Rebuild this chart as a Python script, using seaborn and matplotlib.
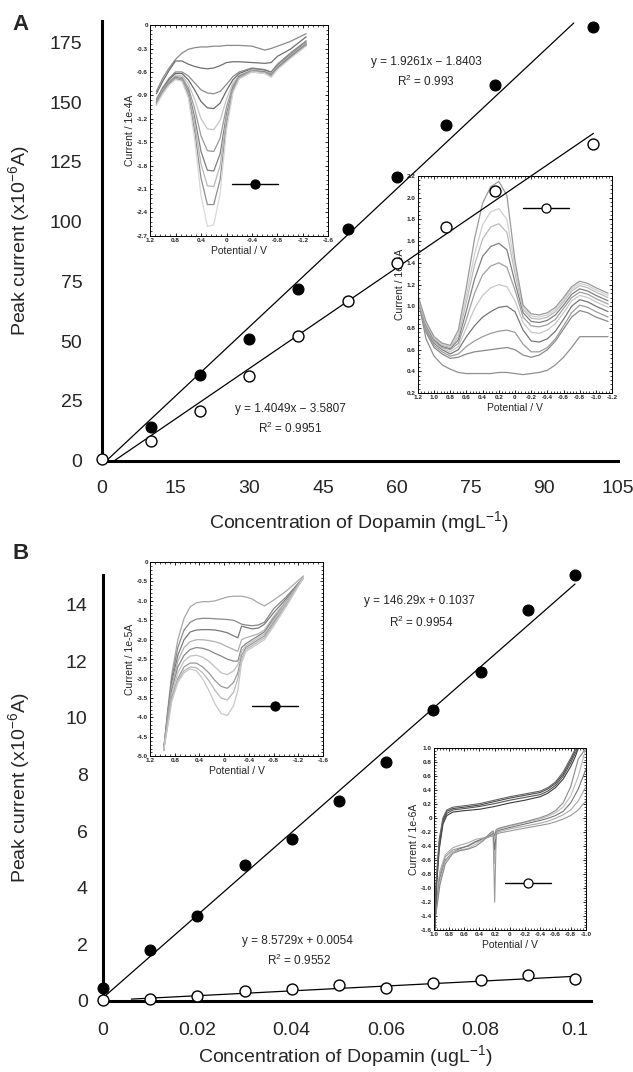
import numpy as np
import matplotlib
matplotlib.use('Agg')
import matplotlib.pyplot as plt
from matplotlib.lines import Line2D
from matplotlib.ticker import AutoMinorLocator
import seaborn as sns

sns.set_style('white')
plt.rcParams['font.family'] = ['Liberation Sans', 'DejaVu Sans']
plt.rcParams['mathtext.default'] = 'regular'

# ---------------- Panel A : mg/L ----------------
conc_a_filled = [10, 20, 30, 40, 50, 60, 70, 80, 100]
peak_a_filled = [14.0, 36.0, 51.1, 72.0, 96.9, 118.8, 140.4, 157.0, 181.2]
conc_a_open = [0, 10, 20, 30, 40, 50, 60, 70, 80, 100]
peak_a_open = [0.6, 8.4, 20.9, 35.6, 52.3, 67.0, 82.8, 97.9, 112.8, 132.5]
fit_a_filled = (1.9261, -1.8403)
fit_a_filled_x = [0.96, 96.0]
fit_a_open = (1.4049, -3.5807)
fit_a_open_x = [2.55, 100.0]

# inset A1 (filled) : potential / current (1e-4 A)
a1_pot = [1.1, 1.0, 0.9, 0.8, 0.7, 0.6, 0.5, 0.4, 0.3, 0.2, 0.1, 0.0, -0.1, -0.2, -0.4, -0.6, -0.7, -0.8, -1.0, -1.25]
a1_curves = [
    [-0.85, -0.68, -0.55, -0.44, -0.36, -0.31, -0.29, -0.28, -0.28, -0.27, -0.27, -0.26, -0.26, -0.26, -0.27, -0.32, -0.30, -0.27, -0.21, -0.11],
    [-0.88, -0.72, -0.58, -0.46, -0.46, -0.50, -0.53, -0.55, -0.56, -0.55, -0.52, -0.48, -0.47, -0.47, -0.48, -0.49, -0.48, -0.40, -0.31, -0.15],
    [-0.95, -0.80, -0.68, -0.60, -0.60, -0.65, -0.74, -0.83, -0.87, -0.88, -0.85, -0.76, -0.66, -0.60, -0.55, -0.57, -0.60, -0.50, -0.36, -0.20],
    [-0.97, -0.82, -0.70, -0.62, -0.62, -0.70, -0.83, -0.98, -1.06, -1.07, -1.00, -0.84, -0.70, -0.62, -0.56, -0.58, -0.61, -0.52, -0.38, -0.22],
    [-0.98, -0.83, -0.72, -0.64, -0.65, -0.75, -0.95, -1.20, -1.33, -1.34, -1.22, -0.95, -0.74, -0.64, -0.57, -0.59, -0.62, -0.53, -0.39, -0.23],
    [-0.99, -0.84, -0.73, -0.66, -0.67, -0.80, -1.07, -1.42, -1.61, -1.62, -1.45, -1.05, -0.78, -0.65, -0.58, -0.60, -0.63, -0.54, -0.40, -0.24],
    [-1.00, -0.85, -0.74, -0.67, -0.69, -0.84, -1.18, -1.62, -1.86, -1.87, -1.65, -1.14, -0.81, -0.66, -0.59, -0.60, -0.64, -0.55, -0.41, -0.25],
    [-1.01, -0.86, -0.75, -0.68, -0.70, -0.87, -1.26, -1.78, -2.06, -2.07, -1.80, -1.20, -0.83, -0.67, -0.59, -0.61, -0.65, -0.56, -0.42, -0.26],
    [-1.02, -0.87, -0.76, -0.69, -0.71, -0.90, -1.36, -1.96, -2.30, -2.30, -1.98, -1.28, -0.85, -0.68, -0.60, -0.62, -0.66, -0.56, -0.42, -0.26],
    [-1.03, -0.88, -0.77, -0.70, -0.72, -0.93, -1.46, -2.18, -2.58, -2.56, -2.16, -1.35, -0.87, -0.69, -0.60, -0.62, -0.67, -0.57, -0.43, -0.27],
]
a1_grays = ['#8a8a8a', '#707070', '#8c8c8c', '#6a6a6a', '#c4c4c4', '#9a9a9a', '#808080', '#b8b8b8', '#8f8f8f', '#d8d8d8']

# inset A2 (open) : potential / current (1e-4 A)
a2_pot = [1.2, 1.1, 1.0, 0.9, 0.8, 0.7, 0.6, 0.5, 0.4, 0.3, 0.2, 0.1, 0.0, -0.1, -0.2, -0.3, -0.4, -0.5, -0.6, -0.7, -0.8, -0.9, -1.0, -1.15]
a2_curves = [
    [1.07, 0.70, 0.54, 0.46, 0.42, 0.39, 0.38, 0.38, 0.38, 0.38, 0.39, 0.39, 0.38, 0.37, 0.38, 0.39, 0.41, 0.46, 0.53, 0.62, 0.72, 0.72, 0.72, 0.72],
    [1.07, 0.76, 0.62, 0.56, 0.52, 0.53, 0.56, 0.58, 0.59, 0.60, 0.61, 0.62, 0.60, 0.55, 0.53, 0.55, 0.60, 0.68, 0.79, 0.90, 0.96, 0.94, 0.90, 0.86],
    [1.07, 0.78, 0.64, 0.58, 0.54, 0.56, 0.63, 0.68, 0.72, 0.75, 0.77, 0.78, 0.76, 0.65, 0.58, 0.58, 0.62, 0.70, 0.82, 0.94, 1.01, 0.99, 0.95, 0.90],
    [1.07, 0.80, 0.66, 0.60, 0.56, 0.60, 0.72, 0.82, 0.90, 0.95, 0.99, 1.00, 0.95, 0.78, 0.68, 0.67, 0.70, 0.77, 0.88, 1.00, 1.06, 1.04, 1.00, 0.95],
    [1.07, 0.81, 0.67, 0.61, 0.58, 0.63, 0.80, 0.98, 1.10, 1.17, 1.20, 1.18, 1.05, 0.85, 0.76, 0.75, 0.78, 0.84, 0.94, 1.05, 1.10, 1.08, 1.04, 0.99],
    [1.07, 0.82, 0.68, 0.62, 0.60, 0.66, 0.88, 1.12, 1.29, 1.37, 1.40, 1.36, 1.15, 0.90, 0.82, 0.81, 0.83, 0.88, 0.98, 1.08, 1.13, 1.11, 1.07, 1.02],
    [1.08, 0.83, 0.69, 0.63, 0.61, 0.69, 0.96, 1.25, 1.46, 1.55, 1.58, 1.52, 1.22, 0.94, 0.86, 0.85, 0.87, 0.92, 1.01, 1.11, 1.16, 1.14, 1.10, 1.05],
    [1.08, 0.84, 0.70, 0.64, 0.62, 0.72, 1.04, 1.38, 1.62, 1.73, 1.76, 1.68, 1.30, 0.97, 0.89, 0.88, 0.90, 0.95, 1.04, 1.14, 1.19, 1.17, 1.13, 1.08],
    [1.09, 0.85, 0.71, 0.65, 0.63, 0.75, 1.10, 1.48, 1.75, 1.87, 1.90, 1.80, 1.36, 0.99, 0.91, 0.90, 0.92, 0.97, 1.06, 1.16, 1.21, 1.19, 1.15, 1.10],
    [1.10, 0.86, 0.72, 0.66, 0.64, 0.78, 1.18, 1.62, 1.95, 2.10, 2.15, 2.02, 1.42, 1.01, 0.93, 0.92, 0.94, 0.99, 1.08, 1.18, 1.23, 1.21, 1.17, 1.12],
]
a2_grays = ['#909090', '#8a8a8a', '#9c9c9c', '#777777', '#c8c8c8', '#a0a0a0', '#808080', '#bbbbbb', '#d0d0d0', '#9a9a9a']

# ---------------- Panel B : ug/L ----------------
conc_b = [0, 0.01, 0.02, 0.03, 0.04, 0.05, 0.06, 0.07, 0.08, 0.09, 0.1]
peak_b_filled = [0.46, 1.80, 3.00, 4.80, 5.70, 7.05, 8.45, 10.28, 11.63, 13.82, 15.05]
peak_b_open = [0.03, 0.06, 0.18, 0.34, 0.42, 0.56, 0.46, 0.64, 0.74, 0.90, 0.78]
fit_b_filled = (146.29, 0.1037)
fit_b_filled_x = [0.0, 0.1]
fit_b_open = (8.5729, 0.0054)
fit_b_open_x = [0.006, 0.1]

# inset B1 (filled) : potential / current (1e-5 A)
b1_pot = [0.98, 0.92, 0.85, 0.75, 0.65, 0.55, 0.45, 0.35, 0.25, 0.15, 0.05, -0.05, -0.15, -0.22, -0.28, -0.35, -0.45, -0.55, -0.65, -0.8, -1.0, -1.28]
b1_curves = [
    [-4.85, -3.90, -2.90, -2.00, -1.45, -1.15, -1.05, -1.02, -1.02, -1.00, -0.95, -0.90, -0.88, -0.88, -0.88, -0.90, -0.95, -1.05, -1.13, -0.98, -0.75, -0.36],
    [-4.85, -3.95, -3.00, -2.20, -1.75, -1.55, -1.47, -1.45, -1.45, -1.46, -1.47, -1.48, -1.50, -1.55, -1.60, -1.62, -1.64, -1.62, -1.55, -1.20, -0.90, -0.40],
    [-4.85, -4.00, -3.10, -2.40, -2.00, -1.80, -1.75, -1.74, -1.74, -1.75, -1.78, -1.82, -1.90, -1.95, -1.65, -1.68, -1.72, -1.70, -1.60, -1.30, -0.95, -0.40],
    [-4.85, -4.05, -3.20, -2.55, -2.20, -2.05, -2.00, -2.00, -2.02, -2.05, -2.10, -2.18, -2.25, -2.30, -2.00, -1.95, -1.90, -1.85, -1.75, -1.40, -1.00, -0.40],
    [-4.85, -4.10, -3.30, -2.70, -2.40, -2.25, -2.20, -2.22, -2.27, -2.35, -2.42, -2.50, -2.55, -2.55, -2.20, -2.10, -2.00, -1.90, -1.80, -1.45, -1.05, -0.40],
    [-4.85, -4.15, -3.40, -2.85, -2.55, -2.42, -2.40, -2.45, -2.55, -2.70, -2.85, -2.90, -2.80, -2.65, -2.30, -2.15, -2.05, -1.95, -1.85, -1.50, -1.05, -0.40],
    [-4.85, -4.20, -3.50, -3.00, -2.70, -2.60, -2.60, -2.70, -2.85, -3.05, -3.20, -3.25, -3.10, -2.85, -2.40, -2.20, -2.10, -2.00, -1.90, -1.55, -1.10, -0.40],
    [-4.85, -4.25, -3.55, -3.05, -2.80, -2.70, -2.72, -2.85, -3.05, -3.30, -3.50, -3.55, -3.35, -3.00, -2.50, -2.25, -2.15, -2.05, -1.95, -1.60, -1.10, -0.40],
    [-4.85, -4.30, -3.60, -3.10, -2.85, -2.75, -2.80, -3.00, -3.30, -3.65, -3.90, -3.95, -3.70, -3.30, -2.60, -2.30, -2.20, -2.10, -2.00, -1.65, -1.15, -0.40],
]
b1_grays = ['#a8a8a8', '#8a8a8a', '#7a7a7a', '#b0b0b0', '#888888', '#c0c0c0', '#999999', '#b8b8b8', '#c8c8c8']

# inset B2 (open) : potential / current (1e-6 A), anodic and cathodic branches
b2_pot_up = [0.99, 0.97, 0.93, 0.88, 0.83, 0.75, 0.6, 0.4, 0.2, 0.0, -0.2, -0.4, -0.5, -0.6, -0.7, -0.8, -0.86, -0.9]
b2_up = [
    [-1.6, -1.05, -0.45, -0.08, 0.04, 0.09, 0.11, 0.13, 0.17, 0.22, 0.26, 0.31, 0.36, 0.44, 0.56, 0.74, 0.88, 1.0],
    [-1.6, -1.00, -0.40, -0.05, 0.07, 0.12, 0.14, 0.17, 0.21, 0.26, 0.30, 0.34, 0.39, 0.47, 0.60, 0.79, 0.93, 1.0],
    [-1.6, -0.95, -0.35, -0.02, 0.10, 0.14, 0.16, 0.19, 0.24, 0.29, 0.33, 0.37, 0.42, 0.50, 0.63, 0.83, 0.97, 1.0],
    [-1.6, -0.90, -0.30, 0.01, 0.12, 0.16, 0.18, 0.21, 0.26, 0.31, 0.35, 0.39, 0.44, 0.52, 0.66, 0.86, 0.99, 1.0],
]
b2_pot_down = [-1.0, -0.9, -0.8, -0.7, -0.6, -0.5, -0.4, -0.2, 0.0, 0.14, 0.18, 0.2, 0.22, 0.26, 0.35, 0.45, 0.55, 0.65, 0.75, 0.85, 0.92, 0.97, 1.0]
b2_down = [
    [0.25, 0.12, 0.04, -0.01, -0.05, -0.08, -0.10, -0.14, -0.18, -0.21, -0.23, -1.20, -0.25, -0.26, -0.30, -0.34, -0.40, -0.42, -0.45, -0.55, -0.80, -1.20, -1.60],
    [0.45, 0.25, 0.12, 0.05, 0.00, -0.04, -0.07, -0.11, -0.15, -0.19, -0.21, -0.65, -0.23, -0.25, -0.28, -0.30, -0.35, -0.38, -0.42, -0.52, -0.75, -1.15, -1.60],
    [0.70, 0.42, 0.22, 0.10, 0.04, 0.00, -0.03, -0.08, -0.13, -0.17, -0.19, -0.45, -0.21, -0.24, -0.29, -0.33, -0.39, -0.43, -0.48, -0.60, -0.85, -1.25, -1.60],
    [1.00, 0.60, 0.32, 0.16, 0.08, 0.03, -0.01, -0.06, -0.11, -0.15, -0.17, -0.30, -0.19, -0.22, -0.30, -0.37, -0.43, -0.45, -0.48, -0.62, -0.90, -1.30, -1.60],
    [1.00, 0.85, 0.45, 0.22, 0.11, 0.05, 0.01, -0.05, -0.10, -0.14, -0.16, -0.25, -0.18, -0.21, -0.32, -0.40, -0.44, -0.46, -0.50, -0.65, -0.95, -1.35, -1.60],
]
b2_up_grays = ['#3c3c3c', '#555555', '#484848', '#666666']
b2_down_grays = ['#999999', '#aaaaaa', '#777777', '#bbbbbb', '#8a8a8a']


def tick_text(v):
    return '0' if abs(v) < 1e-9 else f'{v:.1f}'


def style_inset(ins, xlim, xticks, ylim, yticks, ylabel, marker_face, key_xy):
    ins.set_facecolor('white')
    ins.set_xlim(xlim)
    ins.set_ylim(ylim)
    ins.set_xticks(xticks)
    ins.set_xticklabels([tick_text(v) for v in xticks])
    ins.set_yticks(yticks)
    ins.set_yticklabels([tick_text(v) for v in yticks])
    ins.xaxis.set_minor_locator(AutoMinorLocator(5))
    ins.yaxis.set_minor_locator(AutoMinorLocator(5))
    ins.tick_params(which='both', direction='in', top=True, right=True, bottom=True, left=True,
                    labelsize=4.6, pad=1.5, color='black')
    ins.tick_params(which='major', length=2.4, width=0.6)
    ins.tick_params(which='minor', length=1.2, width=0.5)
    for lab in ins.get_xticklabels() + ins.get_yticklabels():
        lab.set_fontweight('bold')
    for sp in ins.spines.values():
        sp.set_visible(True)
        sp.set_linewidth(0.7)
        sp.set_color('black')
    ins.set_xlabel('Potential / V', fontsize=7.5, labelpad=2)
    ins.set_ylabel(ylabel, fontsize=7.5, labelpad=1)
    # "—o—" key drawn as a label-less legend entry
    key = Line2D([], [], color='black', lw=1.0, marker='o', markersize=6.5,
                 markerfacecolor=marker_face, markeredgecolor='black', markeredgewidth=0.9)
    ins.legend(handles=[key], labels=[''], loc='center', bbox_to_anchor=key_xy,
               frameon=False, handlelength=3.3, handletextpad=0, borderpad=0)
    ins.set_zorder(0.5)


def style_main(ax, xticks, xlabels, yticks):
    sns.despine(ax=ax)
    for side in ('left', 'bottom'):
        ax.spines[side].set_linewidth(2.2)
        ax.spines[side].set_color('black')
    ax.set_xticks(xticks)
    ax.set_xticklabels(xlabels)
    ax.set_yticks(yticks)
    ax.tick_params(axis='both', direction='in', length=6, width=2.2, labelsize=14, color='black')


fig = plt.figure(figsize=(6.33, 10.72), dpi=100)

# ---------------- panel A ----------------
axA = fig.add_axes([0.1607, 0.5702, 0.8156, 0.4104])
axA.set_xlim(0, 105)
axA.set_ylim(0, 184)
style_main(axA, list(range(0, 106, 15)), [str(v) for v in range(0, 106, 15)], list(range(0, 176, 25)))
axA.tick_params(axis='x', pad=14)
axA.tick_params(axis='y', pad=14)

fa_x = np.array(fit_a_filled_x)
fo_x = np.array(fit_a_open_x)
sns.lineplot(x=fa_x, y=fit_a_filled[0] * fa_x + fit_a_filled[1], ax=axA, color='black', lw=0.9, zorder=3)
sns.lineplot(x=fo_x, y=fit_a_open[0] * fo_x + fit_a_open[1], ax=axA, color='black', lw=0.9, zorder=3)
sns.scatterplot(x=conc_a_filled, y=peak_a_filled, ax=axA, color='black', edgecolor='black',
                s=62, linewidth=0.8, zorder=4, clip_on=False)
sns.scatterplot(x=conc_a_open, y=peak_a_open, ax=axA, color='white', edgecolor='black',
                s=62, linewidth=1.0, zorder=4, clip_on=False)

axA.text(66, 166.6, 'y = 1.9261x − 1.8403', ha='center', va='center', fontsize=8.5)
axA.text(66, 158.8, 'R$^{2}$ = 0.993', ha='center', va='center', fontsize=8.5)
axA.text(38.3, 21.6, 'y = 1.4049x − 3.5807', ha='center', va='center', fontsize=8.5)
axA.text(38.3, 13.7, 'R$^{2}$ = 0.9951', ha='center', va='center', fontsize=8.5)

axA.set_xlabel('Concentration of Dopamin (mgL$^{-1}$)', fontsize=14)
axA.set_ylabel('Peak current (x10$^{-6}$A)', fontsize=14)
axA.xaxis.set_label_coords(0.498, -0.11)
axA.yaxis.set_label_coords(-0.135, 0.5)

insA1 = axA.inset_axes([9.82, 94.1, 36.3, 88.1], transform=axA.transData)
for cur, g in zip(a1_curves, a1_grays):
    insA1.plot(a1_pot, cur, color=g, lw=0.9)
style_inset(insA1, (1.2, -1.6), [1.2, 0.8, 0.4, 0.0, -0.4, -0.8, -1.2, -1.6],
            (-2.7, 0), list(np.round(np.arange(0, -2.71, -0.3), 1)), 'Current / 1e-4A',
            'black', (0.59, 0.24))

insA2 = axA.inset_axes([64.3, 28.3, 39.5, 90.8], transform=axA.transData)
for cur, g in zip(a2_curves, a2_grays):
    insA2.plot(a2_pot, cur, color=g, lw=0.9)
style_inset(insA2, (1.2, -1.2), list(np.round(np.arange(1.2, -1.21, -0.2), 1)),
            (0.2, 2.2), list(np.round(np.arange(0.2, 2.21, 0.2), 1)), 'Current / 1e-4A',
            'white', (0.66, 0.85))

# ---------------- panel B ----------------
axB = fig.add_axes([0.1627, 0.0665, 0.7703, 0.3971])
axB.set_xlim(0, 0.1033)
axB.set_ylim(0, 15.05)
style_main(axB, conc_b[::2], ['0', '0.02', '0.04', '0.06', '0.08', '0.1'], list(range(0, 15, 2)))
axB.tick_params(axis='x', pad=15)
axB.tick_params(axis='y', pad=11)

fbf_x = np.array(fit_b_filled_x)
fbo_x = np.array(fit_b_open_x)
sns.lineplot(x=fbf_x, y=fit_b_filled[0] * fbf_x + fit_b_filled[1], ax=axB, color='black', lw=0.9, zorder=3)
sns.lineplot(x=fbo_x, y=fit_b_open[0] * fbo_x + fit_b_open[1], ax=axB, color='black', lw=0.9, zorder=3)
sns.scatterplot(x=conc_b, y=peak_b_filled, ax=axB, color='black', edgecolor='black',
                s=62, linewidth=0.8, zorder=4, clip_on=False)
sns.scatterplot(x=conc_b, y=peak_b_open, ax=axB, color='white', edgecolor='black',
                s=62, linewidth=1.0, zorder=4, clip_on=False)

axB.text(0.067, 14.12, 'y = 146.29x + 0.1037', ha='center', va='center', fontsize=8.5)
axB.text(0.0674, 13.39, 'R$^{2}$ = 0.9954', ha='center', va='center', fontsize=8.5)
axB.text(0.0411, 2.10, 'y = 8.5729x + 0.0054', ha='center', va='center', fontsize=8.5)
axB.text(0.0415, 1.44, 'R$^{2}$ = 0.9552', ha='center', va='center', fontsize=8.5)

axB.set_xlabel('Concentration of Dopamin (ugL$^{-1}$)', fontsize=14)
axB.set_ylabel('Peak current (x10$^{-6}$A)', fontsize=14)
axB.xaxis.set_label_coords(0.496, -0.1)
axB.yaxis.set_label_coords(-0.145, 0.5)

insB1 = axB.inset_axes([0.00996, 8.64, 0.0367, 6.87], transform=axB.transData)
for cur, g in zip(b1_curves, b1_grays):
    insB1.plot(b1_pot, cur, color=g, lw=0.9)
style_inset(insB1, (1.2, -1.6), [1.2, 0.8, 0.4, 0.0, -0.4, -0.8, -1.2, -1.6],
            (-5.0, 0), list(np.round(np.arange(0, -5.01, -0.5), 1)), 'Current / 1e-5A',
            'black', (0.72, 0.257))

insB2 = axB.inset_axes([0.0701, 2.49, 0.0322, 6.43], transform=axB.transData)
for cur, g in zip(b2_down, b2_down_grays):
    insB2.plot(b2_pot_down, cur, color=g, lw=0.8)
for cur, g in zip(b2_up, b2_up_grays):
    insB2.plot(b2_pot_up, cur, color=g, lw=0.8)
style_inset(insB2, (1.0, -1.0), list(np.round(np.arange(1.0, -1.01, -0.2), 1)),
            (-1.6, 1.0), list(np.round(np.arange(-1.6, 1.01, 0.2), 1)), 'Current / 1e-6A',
            'white', (0.62, 0.254))

fig.text(0.032, 0.977, 'A', fontsize=16, fontweight='bold', ha='center', va='center')
fig.text(0.032, 0.484, 'B', fontsize=16, fontweight='bold', ha='center', va='center')

fig.savefig('out.png', dpi=100)
